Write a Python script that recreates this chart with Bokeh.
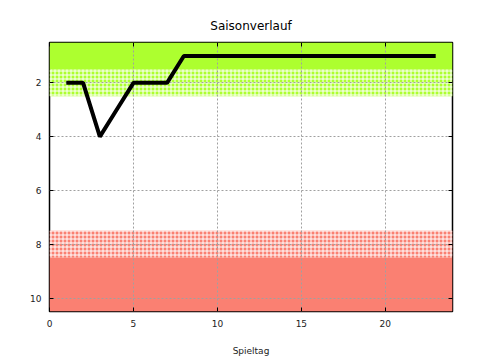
from bokeh.plotting import figure
from bokeh.models import Range1d, LinearAxis, FixedTicker
from bokeh.embed import file_html
from bokeh.resources import INLINE

spieltag = list(range(1, 24))
platz = [2, 2, 4, 3, 2, 2, 2, 1, 1, 1, 1, 1, 1, 1, 1, 1, 1, 1, 1, 1, 1, 1, 1]
x_ticks = [0, 5, 10, 15, 20]
y_ticks = [2, 4, 6, 8, 10]
# zones: (top, bottom, color, hatched)
zone_top = [0.5, 1.5, 7.5, 8.5]
zone_bottom = [1.5, 2.5, 8.5, 10.5]
zone_color = ["#adff2f", "#adff2f", "#fa8072", "#fa8072"]
zone_hatched = [False, True, True, False]

FONT = "DejaVu Sans"

p = figure(width=480, height=360, output_backend="svg", toolbar_location=None,
           x_range=Range1d(0, 24), y_range=Range1d(10.5, 0.5),
           min_border_left=49, min_border_right=28, min_border_top=42, min_border_bottom=49)
p.title.text = "Saisonverlauf"
p.title.align = "center"
p.title.text_font = FONT
p.title.text_font_size = "12px"
p.title.text_font_style = "normal"
p.title.text_color = "black"
p.title.standoff = 20

for t, b, c, h in zip(zone_top, zone_bottom, zone_color, zone_hatched):
    if h:
        p.quad(left=0, right=24, top=t, bottom=b, fill_color=c, line_color=None,
               hatch_pattern="cross", hatch_color="white", hatch_scale=4, hatch_weight=1,
               level="image")
    else:
        p.quad(left=0, right=24, top=t, bottom=b, fill_color=c, line_color=None,
               level="image")

p.xgrid.grid_line_color = "#a0a0a0"
p.ygrid.grid_line_color = "#a0a0a0"
p.xgrid.grid_line_dash = "2 2"
p.ygrid.grid_line_dash = "2 2"

p.line(spieltag, platz, line_color="black", line_width=4)

p.xaxis.ticker = FixedTicker(ticks=x_ticks)
p.yaxis.ticker = FixedTicker(ticks=y_ticks)
p.xgrid.ticker = FixedTicker(ticks=x_ticks)
p.ygrid.ticker = FixedTicker(ticks=y_ticks)
p.xaxis.axis_label = "Spieltag"
p.xaxis.axis_label_standoff = 16
for ax in [p.xaxis[0], p.yaxis[0]]:
    ax.major_tick_in = 4
    ax.major_tick_out = 0
    ax.minor_tick_line_color = None
    ax.axis_line_color = None
    ax.major_tick_line_color = "black"
    ax.major_label_text_font = FONT
    ax.major_label_text_font_size = "9px"
    ax.major_label_text_color = "#222222"
    ax.axis_label_text_font = FONT
    ax.axis_label_text_font_size = "9px"
    ax.axis_label_text_font_style = "normal"
    ax.axis_label_text_color = "#222222"
    ax.major_label_standoff = 8

for loc, ticks in [("right", y_ticks), ("above", x_ticks)]:
    a = LinearAxis(ticker=FixedTicker(ticks=ticks), major_tick_in=4, major_tick_out=0,
                   minor_tick_line_color=None, axis_line_color=None,
                   major_label_text_color=None, major_label_text_font_size="1px")
    p.add_layout(a, loc)

p.outline_line_color = "black"
p.outline_line_width = 1.5

open("out.html", "w").write(file_html(p, INLINE))
